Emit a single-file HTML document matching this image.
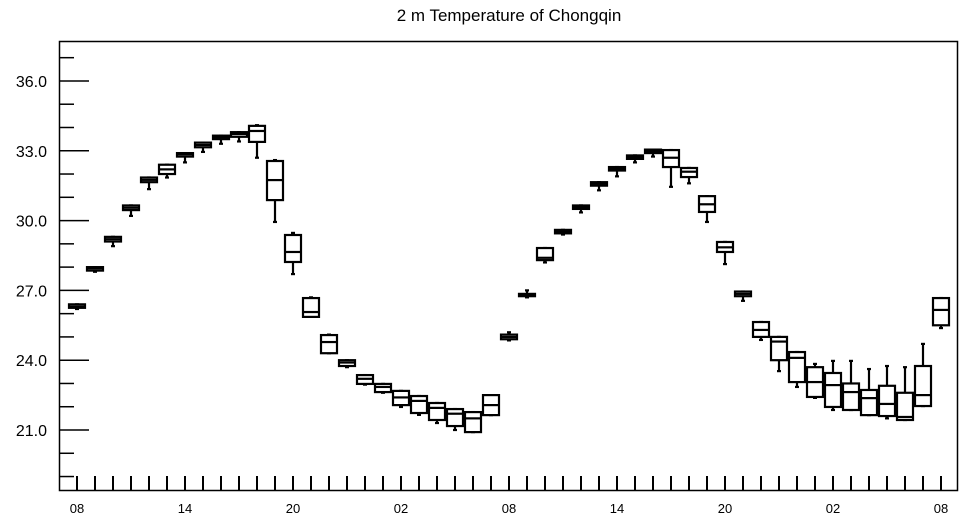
<!DOCTYPE html>
<html><head><meta charset="utf-8"><style>
body{margin:0;background:#fff;}
svg{display:block;font-family:"Liberation Sans",Arial,sans-serif;}
</style></head><body>
<svg id="chart" width="964" height="520">
<text x="509" y="21" text-anchor="middle" font-size="17">2 m Temperature of Chongqin</text>
<rect x="59.5" y="41.5" width="898" height="449" fill="none" stroke="#000" stroke-width="1.5"/>
<g id="yaxis"></g>
<g id="xaxis"></g>
<g id="boxes"></g>
</svg>
<script>
const hourLabels = ["08","14","20","02","08","14","20","02","08"];
const yTicks = [21,24,27,30,33,36];
const mins = [26.2,27.8,28.9,30.2,31.35,31.85,32.5,32.95,33.3,33.4,32.7,29.94,27.7,25.86,24.3,23.7,22.95,22.6,21.99,21.65,21.3,21.0,20.91,21.64,
24.85,26.7,28.2,29.4,30.35,31.3,31.9,32.5,32.75,31.45,31.6,29.94,28.13,26.55,24.87,23.53,22.85,22.38,21.86,21.86,21.64,21.5,21.43,22.03,25.38];
const q1s = [26.25,27.85,29.1,30.45,31.65,32.0,32.75,33.15,33.5,33.6,33.38,30.88,28.22,25.86,24.3,23.75,22.98,22.63,22.07,21.73,21.43,21.17,20.91,21.64,
24.9,26.75,28.3,29.45,30.5,31.5,32.15,32.65,32.9,32.3,31.87,30.37,28.65,26.75,25.0,24.0,23.06,22.42,21.99,21.86,21.64,21.6,21.43,22.03,25.5];
const medians = [26.3,27.95,29.2,30.55,31.75,32.2,32.85,33.25,33.58,33.72,33.85,31.74,28.65,26.07,24.78,23.9,23.2,22.85,22.4,22.25,21.95,21.7,21.5,22.07,
25.0,26.8,28.4,29.52,30.58,31.58,32.22,32.72,32.98,32.7,32.1,30.7,28.85,26.85,25.3,24.8,24.1,23.06,22.93,22.63,22.37,22.12,21.56,22.5,26.16];
const q3s = [26.4,28.0,29.3,30.65,31.85,32.4,32.9,33.35,33.65,33.8,34.07,32.56,29.38,26.67,25.08,24.0,23.36,22.98,22.68,22.46,22.16,21.9,21.77,22.5,
25.1,26.85,28.82,29.6,30.65,31.65,32.3,32.8,33.05,33.03,32.26,31.05,29.08,26.95,25.64,25.0,24.35,23.7,23.45,23.0,22.72,22.9,22.6,23.75,26.67];
const maxs = [26.4,28.0,29.3,30.65,31.85,32.4,32.9,33.35,33.65,33.8,34.1,32.6,29.47,26.7,25.1,24.0,23.36,22.98,22.68,22.46,22.16,21.9,21.77,22.5,
25.2,27.0,28.82,29.6,30.65,31.65,32.3,32.8,33.05,33.03,32.26,31.05,29.08,26.95,25.64,25.0,24.35,23.84,23.97,23.97,23.62,23.75,23.7,24.7,26.67];

const NS="http://www.w3.org/2000/svg";
const x0=77, dx=18;
function xs(i){return x0+i*dx;}
function ys(v){return 430-(v-21)*23.27;}
function mk(tag,attrs,parent){const e=document.createElementNS(NS,tag);for(const k in attrs)e.setAttribute(k,attrs[k]);parent.appendChild(e);return e;}
const ya=document.getElementById('yaxis'), xa=document.getElementById('xaxis'), bx=document.getElementById('boxes');
for(let v=19;v<=37;v++){
  const y=ys(v); if(y<42||y>490) continue;
  const major=yTicks.includes(v);
  const t=mk('line',{x1:59,x2:major?89:74,y1:y,y2:y,stroke:'#000','stroke-width':1.5},ya);
  
  
}
yTicks.forEach(v=>{
  const t=mk('text',{x:47,y:ys(v)+6,'text-anchor':'end','font-size':16},ya);
  t.textContent=v.toFixed(1);
  
  
});
for(let i=0;i<mins.length;i++){
  const l=mk('line',{x1:xs(i),x2:xs(i),y1:490,y2:476,stroke:'#000','stroke-width':2},xa);
  
  
}
hourLabels.forEach((s,k)=>{
  const t=mk('text',{x:xs(k*6),y:513,'text-anchor':'middle','font-size':13},xa);
  t.textContent=s;
  
  
});
for(let i=0;i<mins.length;i++){
  const g=mk('g',{stroke:'#000','stroke-width':2.2,fill:'none'},bx);
  
  
  const x=xs(i);
  mk('line',{x1:x,x2:x,y1:ys(maxs[i]),y2:ys(q3s[i])},g);
  mk('line',{x1:x,x2:x,y1:ys(q1s[i]),y2:ys(mins[i])},g);
  mk('line',{x1:x-2,x2:x+2,y1:ys(mins[i]),y2:ys(mins[i])},g);
  mk('line',{x1:x-2,x2:x+2,y1:ys(maxs[i]),y2:ys(maxs[i])},g);
  const top=ys(q3s[i]), bot=ys(q1s[i]);
  mk('rect',{x:x-8,y:top,width:16,height:Math.max(bot-top,1.5),fill:'#fff'},g);
  mk('line',{x1:x-8,x2:x+8,y1:ys(medians[i]),y2:ys(medians[i])},g);
}
</script>
</body></html>
